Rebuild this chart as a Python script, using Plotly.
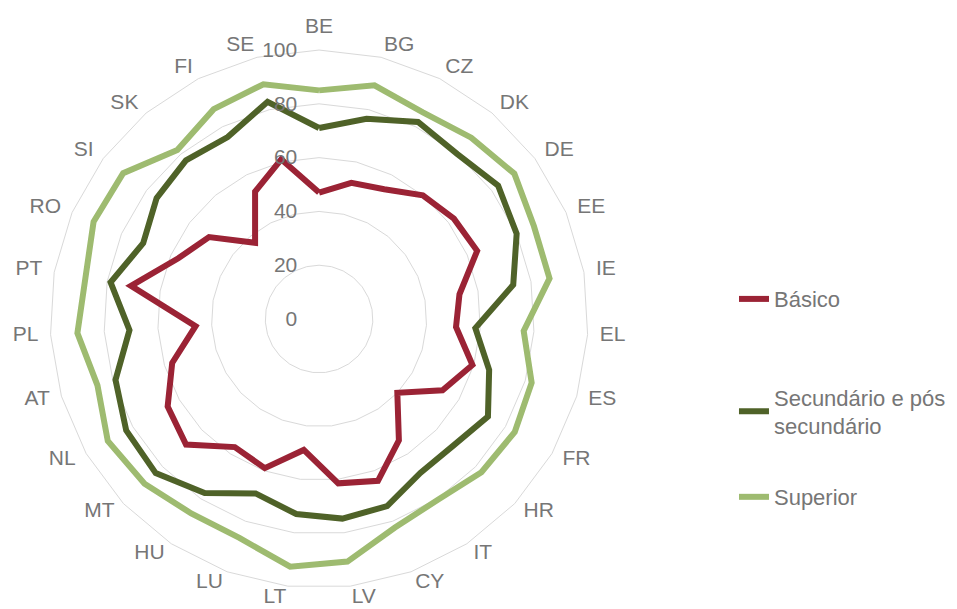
import plotly.graph_objects as go

countries = ["BE", "BG", "CZ", "DK", "DE", "EE", "IE", "EL", "ES", "FR", "HR", "IT", "CY", "LV",
             "LT", "LU", "HU", "MT", "NL", "AT", "PL", "PT", "RO", "SI", "SK", "FI", "SE"]

basico = [47, 52, 54, 60, 62.5, 64, 53, 51, 59.5, 53, 40, 54, 64, 61.5,
          49, 59, 57, 68, 65, 57, 46, 71, 57, 51, 37, 53, 61]
secundario = [71, 76.5, 82, 80, 83, 80, 73.3, 58.2, 66, 72.5, 68.6, 68.5, 74, 74.7,
              73, 69, 77.4, 83.5, 82.8, 79, 70.6, 78.7, 71.2, 75.3, 77, 75.7, 83]
superior = [85, 89.3, 86, 88, 90.5, 87, 87, 76.2, 82.5, 84, 83, 80.4, 82.5, 90.8,
            92.7, 86.6, 86.5, 89.2, 90.7, 86, 90, 88.2, 91.3, 90.8, 82, 87.3, 89.7]
radial_ticks = [0, 20, 40, 60, 80, 100]

series_names = ["Básico", "Secundário e pós<br>secundário", "Superior"]
colors = ["#9B2335", "#4F6228", "#9EBB70"]
legend_y = [0.522, 0.337, 0.197]

# country labels hang off a ring just outside the 100 grid (Excel-like anchoring)
LABEL_R = 104.5
R_MAX = 107

grey = "#767676"


def label_position(angle):
    # angle measured clockwise from the top
    if angle < 7 or angle > 353:
        return "top center"
    return "middle right" if angle <= 180 else "middle left"


step = 360 / len(countries)
label_pos = [label_position(i * step) for i in range(len(countries))]

fig = go.Figure()
for i, (name, vals) in enumerate(zip(series_names, [basico, secundario, superior])):
    fig.add_trace(go.Scatterpolar(
        r=vals + vals[:1],
        theta=countries + countries[:1],
        mode="lines",
        name=name,
        line=dict(color=colors[i], width=6),
        legend="legend" if i == 0 else f"legend{i + 1}",
    ))

fig.add_trace(go.Scatterpolar(
    r=[LABEL_R] * len(countries),
    theta=countries,
    mode="text",
    text=countries,
    textfont=dict(size=21, color=grey),
    textposition=label_pos,
    cliponaxis=False,
    showlegend=False,
    hoverinfo="skip",
))

legend_style = dict(x=0.7586, xanchor="left", yanchor="middle",
                    font=dict(size=22, color=grey), bgcolor="rgba(0,0,0,0)")

fig.update_layout(
    width=957,
    height=609,
    margin=dict(l=0, r=0, t=0, b=0),
    paper_bgcolor="white",
    showlegend=True,
    font=dict(family="Liberation Sans, Arial", size=21, color=grey),
    polar=dict(
        domain=dict(x=[0.0243, 0.6258], y=[0.0167, 0.9619]),
        bgcolor="white",
        gridshape="linear",
        radialaxis=dict(
            range=[0, R_MAX],
            tickvals=radial_ticks,
            angle=90,
            tickangle=90,
            side="counterclockwise",
            showline=False,
            ticks="outside",
            ticklen=14,
            tickcolor="rgba(0,0,0,0)",
            gridcolor="#d9d9d9",
            gridwidth=1.3,
            tickfont=dict(size=21, color=grey),
        ),
        angularaxis=dict(
            rotation=90,
            direction="clockwise",
            showgrid=False,
            showline=False,
            ticks="",
            showticklabels=False,
        ),
    ),
    legend=dict(y=legend_y[0], **legend_style),
    legend2=dict(y=legend_y[1], **legend_style),
    legend3=dict(y=legend_y[2], **legend_style),
)

fig.write_html("out.html")
